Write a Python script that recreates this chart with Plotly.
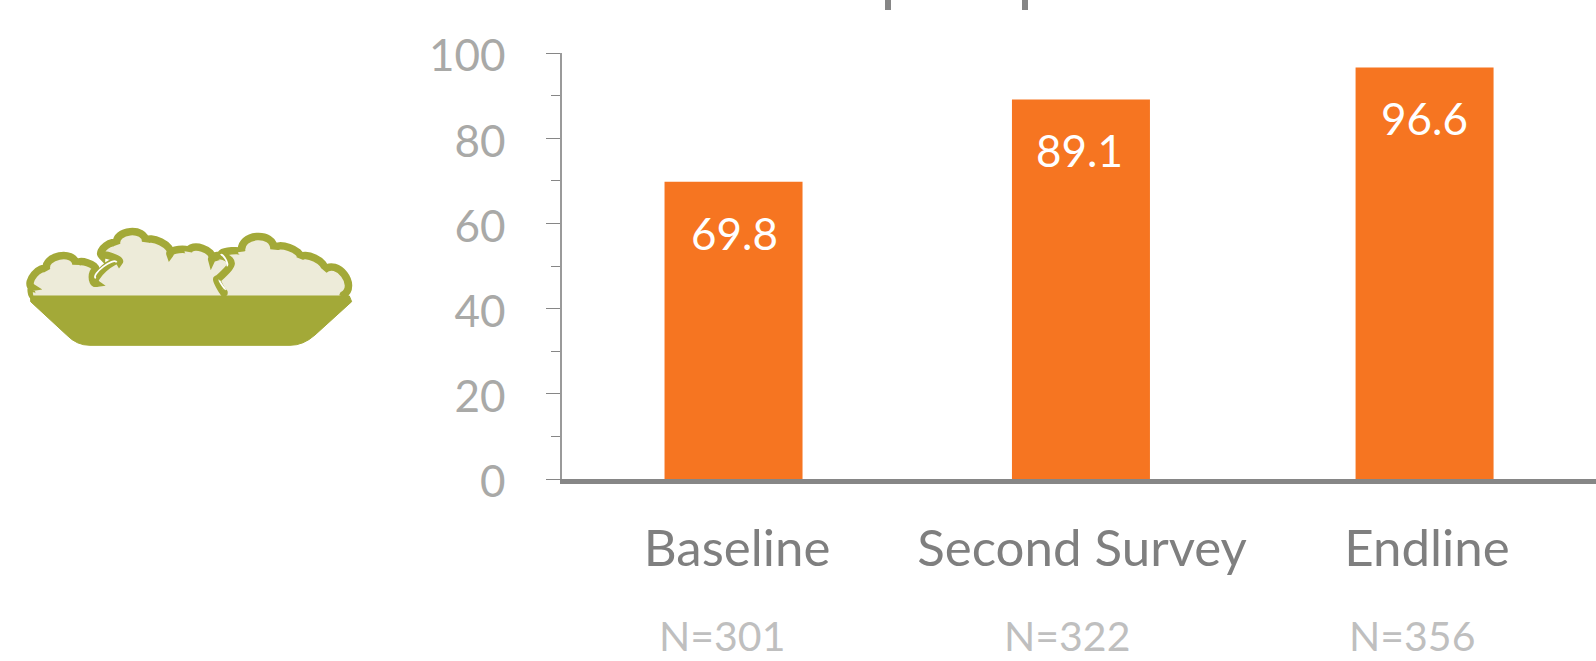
import math

import plotly.graph_objects as go

# Survey results
rounds = ["Baseline", "Second Survey", "Endline"]
shares = [69.8, 89.1, 96.6]
sample_sizes = ["N=301", "N=322", "N=356"]
y_ticks = [0, 20, 40, 60, 80, 100]

W, H = 1596, 661
PLOT_L, PLOT_R, PLOT_T, PLOT_B = 562, 1596, 53, 479
ORANGE = "#F67521"
AXIS = "#868686"
FONT = "Lato"

fig = go.Figure()
fig.add_bar(
    x=rounds,
    y=shares,
    width=0.4,
    offset=[-0.1985, -0.1915, -0.1955],
    marker=dict(color=ORANGE, line=dict(width=0)),
    hoverinfo="skip",
)


def page_x(x):
    return (x - PLOT_L) / (PLOT_R - PLOT_L)


def page_y(y):
    return (PLOT_B - y) / (PLOT_B - PLOT_T)


def pt(p):
    return f"{page_x(p[0]):.5f},{page_y(p[1]):.5f}"


def icon_xy(x, y):
    # Icon outlines are laid out at three times page size, from the icon's corner
    return (x / 3, 200 + y / 3)


def scallops(nodes):
    """Cubic arcs between (x, y, bulge) nodes; each bulge lifts the arc ending at that node."""
    parts = []
    for (x1, y1, _), (x2, y2, bulge) in zip(nodes, nodes[1:]):
        dx, dy = x2 - x1, y2 - y1
        length = math.hypot(dx, dy)
        ux, uy = dx / length, dy / length
        nx, ny = uy, -ux
        lift = bulge * 4 / 3
        splay = 0.05 * length * (1 if abs(bulge) > 6 else 0)
        c1 = icon_xy(x1 + nx * lift - ux * splay, y1 + ny * lift - uy * splay)
        c2 = icon_xy(x2 + nx * lift + ux * splay, y2 + ny * lift + uy * splay)
        parts.append(f"C{pt(c1)} {pt(c2)} {pt(icon_xy(x2, y2))}")
    return "".join(parts)


def start(nodes):
    return f"M{pt(icon_xy(*nodes[0][:2]))}"


GREEN = "#A3A938"
LEAF = "#EDEBD9"

left_leaf = [
    (100, 288, 0), (96, 262, 4), (140, 210, 20), (228, 193, 34), (287, 212, 15), (287, 250, -10),
    (358, 185, 16), (305, 167, -7), (350, 133, 16), (437, 125, 34), (510, 162, 20), (565, 155, 10),
    (635, 178, 23), (665, 170, 3),
]
mid_curl = [(640, 176, 0), (692, 195, 17), (650, 238, 3), (672, 278, -2)]
right_leaf = [
    (665, 160, 0), (725, 155, 5), (822, 148, 42), (900, 175, 20), (972, 210, 20),
    (1030, 285, 40), (1028, 290, 0),
]
curl_tips = [(287, 250), (672, 278)]
highlights = [
    [(287, 235, 0), (350, 187, 14)],
    [(662, 165, 0), (680, 198, 7)],
    [(658, 240, 0), (677, 268, -2)],
]

bowl_top_l, bowl_top_r = icon_xy(92, 288), icon_xy(1048, 288)
bowl_rim_r, bowl_side_r = icon_xy(1055, 305), icon_xy(945, 405)
bowl_ctrl_r, bowl_base_r = icon_xy(910, 436), icon_xy(870, 436)
bowl_base_l, bowl_ctrl_l = icon_xy(270, 436), icon_xy(230, 436)
bowl_side_l, bowl_rim_l = icon_xy(200, 405), icon_xy(92, 305)

shape_base = dict(type="path", xref="paper", yref="paper", layer="above")

fig.add_shape(
    path=start(left_leaf) + scallops(left_leaf) + f"L{pt(icon_xy(*right_leaf[0][:2]))}"
    + scallops(right_leaf) + "Z",
    fillcolor=LEAF,
    line=dict(width=0),
    **shape_base,
)
for outline in (left_leaf, mid_curl, right_leaf):
    fig.add_shape(path=start(outline) + scallops(outline), line=dict(color=GREEN, width=7.5), **shape_base)
for tip_x, tip_y in curl_tips:
    cx, cy = icon_xy(tip_x, tip_y)
    fig.add_shape(type="circle", xref="paper", yref="paper", layer="above",
                  x0=page_x(cx - 3.75), x1=page_x(cx + 3.75), y0=page_y(cy + 3.75), y1=page_y(cy - 3.75),
                  fillcolor=GREEN, line=dict(width=0))

fig.add_shape(
    path=(
        f"M{pt(bowl_top_l)}L{pt(bowl_top_r)}L{pt(bowl_rim_r)}L{pt(bowl_side_r)}"
        f"Q{pt(bowl_ctrl_r)} {pt(bowl_base_r)}L{pt(bowl_base_l)}"
        f"Q{pt(bowl_ctrl_l)} {pt(bowl_side_l)}L{pt(bowl_rim_l)}Z"
    ),
    fillcolor=GREEN,
    line=dict(color=GREEN, width=1),
    **shape_base,
)
for stroke in highlights:
    fig.add_shape(path=start(stroke) + scallops(stroke), line=dict(color="white", width=1.8), **shape_base)

# Descenders of the heading that runs off the top edge
for stem_x in (888, 1025):
    fig.add_shape(type="rect", xref="paper", yref="paper",
                  x0=page_x(stem_x - 3), x1=page_x(stem_x + 3), y0=page_y(10), y1=page_y(0),
                  fillcolor=AXIS, line=dict(width=0))

# Value labels inside the bars
for name, value in zip(rounds, shares):
    fig.add_annotation(x=name, xshift=1, y=value, yshift=-51, text=f"{value}", showarrow=False,
                       yanchor="middle",
                       font=dict(family=FONT, size=44, color="white"))

# Sample sizes under the round names
for name, n_label in zip(rounds, sample_sizes):
    fig.add_annotation(x=name, xshift=-11, yref="paper", y=page_y(635), text=n_label, showarrow=False,
                       yanchor="middle",
                       font=dict(family=FONT, size=41, color="#BFBFBF"))

fig.update_layout(
    width=W,
    height=H,
    margin=dict(l=PLOT_L, r=W - PLOT_R, t=PLOT_T, b=H - PLOT_B, autoexpand=False),
    paper_bgcolor="white",
    plot_bgcolor="white",
    showlegend=False,
)
fig.update_xaxes(
    type="category",
    range=[-0.4957, 2.5014],
    showgrid=False,
    showline=True,
    linecolor=AXIS,
    linewidth=5,
    ticks="",
    ticklabelstandoff=21,
    ticklabelshift=4,
    tickfont=dict(family=FONT, size=51, color="#7F7F7F"),
)
fig.update_yaxes(
    range=[0, 100],
    tickvals=y_ticks,
    ticktext=[str(t) for t in y_ticks],
    showgrid=False,
    zeroline=False,
    showline=True,
    linecolor="#9A9A9A",
    linewidth=1.5,
    ticks="outside",
    ticklen=14,
    tickwidth=1,
    tickcolor=AXIS,
    ticklabelstandoff=32,
    ticklabelshift=3,
    tickfont=dict(family=FONT, size=44, color="#A9A9A7"),
    minor=dict(dtick=10, ticks="outside", ticklen=9, tickwidth=1, tickcolor=AXIS, showgrid=False),
)

fig.write_html("out.html")
